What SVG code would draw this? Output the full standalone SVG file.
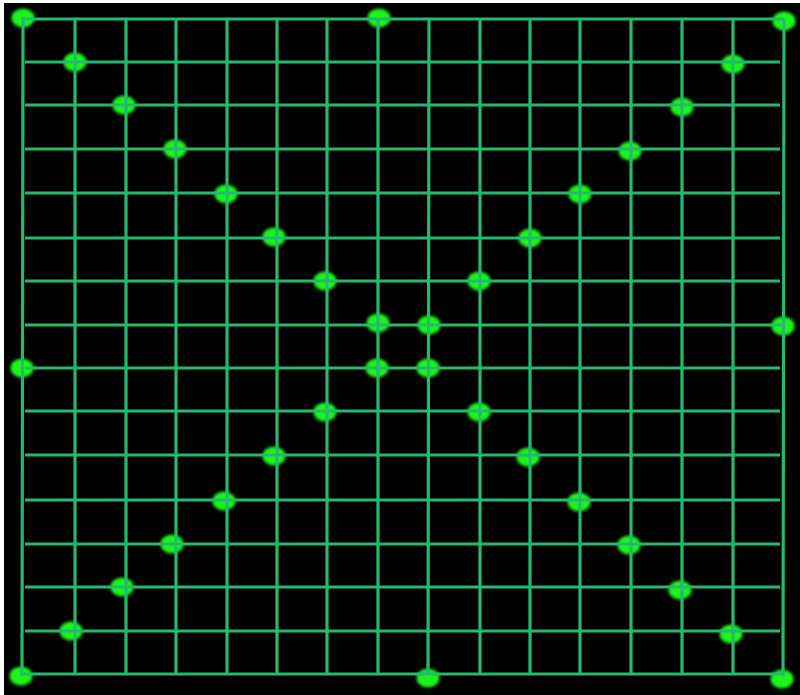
<svg xmlns="http://www.w3.org/2000/svg" width="800" height="695" viewBox="0 0 800 695">
<defs>
<filter id="soft" x="-50%" y="-50%" width="200%" height="200%"><feGaussianBlur stdDeviation="1.4"/></filter>
<style>
.dot{fill:#1cf41c;filter:url(#soft)}
.ln{stroke:#22bb6e;stroke-width:3.2;fill:none}
</style>
</defs>
<rect x="0" y="0" width="800" height="695" fill="#ffffff"/>
<rect x="4" y="3" width="796" height="692" fill="#000000"/>
<g id="nodes">
<g id="n1"><ellipse class="dot" cx="23" cy="18" rx="11.5" ry="9.5"/></g>
<g id="n2"><ellipse class="dot" cx="379" cy="18" rx="11.5" ry="9.5"/></g>
<g id="n3"><ellipse class="dot" cx="784" cy="21" rx="11.5" ry="9.5"/></g>
<g id="n4"><ellipse class="dot" cx="75" cy="62" rx="11.5" ry="9.5"/></g>
<g id="n5"><ellipse class="dot" cx="733" cy="64" rx="11.5" ry="9.5"/></g>
<g id="n6"><ellipse class="dot" cx="124" cy="105" rx="11.5" ry="9.5"/></g>
<g id="n7"><ellipse class="dot" cx="682" cy="107" rx="11.5" ry="9.5"/></g>
<g id="n8"><ellipse class="dot" cx="175" cy="149" rx="11.5" ry="9.5"/></g>
<g id="n9"><ellipse class="dot" cx="630" cy="151" rx="11.5" ry="9.5"/></g>
<g id="n10"><ellipse class="dot" cx="226" cy="194" rx="11.5" ry="9.5"/></g>
<g id="n11"><ellipse class="dot" cx="580" cy="194" rx="11.5" ry="9.5"/></g>
<g id="n12"><ellipse class="dot" cx="274" cy="237" rx="11.5" ry="9.5"/></g>
<g id="n13"><ellipse class="dot" cx="530" cy="238" rx="11.5" ry="9.5"/></g>
<g id="n14"><ellipse class="dot" cx="325" cy="281" rx="11.5" ry="9.5"/></g>
<g id="n15"><ellipse class="dot" cx="479" cy="281" rx="11.5" ry="9.5"/></g>
<g id="n16"><ellipse class="dot" cx="378" cy="323" rx="11.5" ry="9.5"/></g>
<g id="n17"><ellipse class="dot" cx="429" cy="325" rx="11.5" ry="9.5"/></g>
<g id="n18"><ellipse class="dot" cx="783" cy="326" rx="11.5" ry="9.5"/></g>
<g id="n19"><ellipse class="dot" cx="22" cy="368" rx="11.5" ry="9.5"/></g>
<g id="n20"><ellipse class="dot" cx="377" cy="368" rx="11.5" ry="9.5"/></g>
<g id="n21"><ellipse class="dot" cx="428" cy="368" rx="11.5" ry="9.5"/></g>
<g id="n22"><ellipse class="dot" cx="325" cy="412" rx="11.5" ry="9.5"/></g>
<g id="n23"><ellipse class="dot" cx="479" cy="412" rx="11.5" ry="9.5"/></g>
<g id="n24"><ellipse class="dot" cx="274" cy="456" rx="11.5" ry="9.5"/></g>
<g id="n25"><ellipse class="dot" cx="528" cy="457" rx="11.5" ry="9.5"/></g>
<g id="n26"><ellipse class="dot" cx="224" cy="501" rx="11.5" ry="9.5"/></g>
<g id="n27"><ellipse class="dot" cx="579" cy="502" rx="11.5" ry="9.5"/></g>
<g id="n28"><ellipse class="dot" cx="172" cy="544" rx="11.5" ry="9.5"/></g>
<g id="n29"><ellipse class="dot" cx="629" cy="545" rx="11.5" ry="9.5"/></g>
<g id="n30"><ellipse class="dot" cx="122" cy="587" rx="11.5" ry="9.5"/></g>
<g id="n31"><ellipse class="dot" cx="680" cy="590" rx="11.5" ry="9.5"/></g>
<g id="n32"><ellipse class="dot" cx="71" cy="631" rx="11.5" ry="9.5"/></g>
<g id="n33"><ellipse class="dot" cx="731" cy="634" rx="11.5" ry="9.5"/></g>
<g id="n34"><ellipse class="dot" cx="21" cy="676" rx="11.5" ry="9.5"/></g>
<g id="n35"><ellipse class="dot" cx="428" cy="678" rx="11.5" ry="9.5"/></g>
<g id="n36"><ellipse class="dot" cx="782" cy="679" rx="11.5" ry="9.5"/></g>
</g>
<g id="connectors" class="ln">
<line x1="23" y1="19" x2="784" y2="19"/>
<line x1="25" y1="62" x2="780" y2="62"/>
<line x1="25" y1="105" x2="780" y2="105"/>
<line x1="25" y1="149" x2="780" y2="149"/>
<line x1="25" y1="193" x2="780" y2="193"/>
<line x1="25" y1="238" x2="780" y2="238"/>
<line x1="25" y1="281" x2="780" y2="281"/>
<line x1="25" y1="325" x2="783" y2="325"/>
<line x1="25" y1="368" x2="780" y2="368"/>
<line x1="25" y1="411" x2="780" y2="411"/>
<line x1="25" y1="455" x2="780" y2="455"/>
<line x1="25" y1="500" x2="780" y2="500"/>
<line x1="25" y1="544" x2="780" y2="544"/>
<line x1="25" y1="587" x2="780" y2="587"/>
<line x1="25" y1="631" x2="780" y2="631"/>
<line x1="22" y1="674" x2="782" y2="674"/>
<line x1="23" y1="17" x2="22" y2="676"/>
<line x1="75" y1="19" x2="75" y2="674"/>
<line x1="126" y1="19" x2="126" y2="674"/>
<line x1="176" y1="19" x2="176" y2="674"/>
<line x1="227" y1="19" x2="227" y2="674"/>
<line x1="277" y1="19" x2="277" y2="674"/>
<line x1="327" y1="19" x2="327" y2="674"/>
<line x1="378" y1="19" x2="378" y2="674"/>
<line x1="429" y1="19" x2="428" y2="674"/>
<line x1="480" y1="19" x2="480" y2="674"/>
<line x1="530" y1="19" x2="530" y2="674"/>
<line x1="580" y1="19" x2="580" y2="674"/>
<line x1="631" y1="19" x2="631" y2="674"/>
<line x1="682" y1="19" x2="682" y2="674"/>
<line x1="733" y1="19" x2="733" y2="674"/>
<line x1="784" y1="19" x2="783" y2="676"/>
</g>
</svg>
